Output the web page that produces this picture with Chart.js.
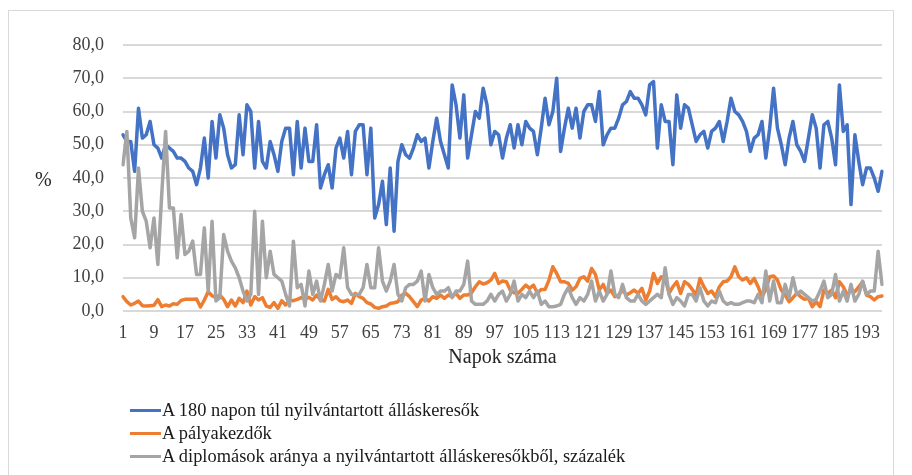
<!DOCTYPE html>
<html>
<head>
<meta charset="utf-8">
<script src="https://cdn.jsdelivr.net/npm/chart.js@4/dist/chart.umd.min.js"></script>
<style>
  html, body { margin: 0; padding: 0; background: #ffffff; }
  #wrap { position: relative; width: 912px; height: 475px; overflow: hidden; background: #fff; }
  #frame { position: absolute; left: 8px; top: 10px; width: 886px; height: 480px; border: 1px solid #d9d9d9; box-sizing: border-box; }
  #c { position: absolute; left: 0; top: 0; }
  .ytitle { position: absolute; left: 35px; top: 168px; font: 20px "Liberation Serif", "Times New Roman", serif; color: #262626; }
  .leg { position: absolute; left: 130px; font: 18.4px "Liberation Serif", "Times New Roman", serif; color: #1a1a1a; }
  .leg .row { position: relative; height: 23px; line-height: 23px; white-space: nowrap; }
  .leg .sw { position: absolute; left: 0; top: 10px; width: 31px; height: 3px; }
  .leg .tx { position: absolute; left: 32px; top: 0; }
</style>
</head>
<body>
<div id="wrap">
  <div id="frame"></div>
  <canvas id="c" width="912" height="475"></canvas>
  <div class="ytitle">%</div>
  <div class="leg" id="legend" style="top:399px;"></div>
</div>
<script>
// Categories: day numbers 1..197
const days = Array.from({length: 197}, (_, i) => String(i + 1));

// Tick labels shown on the x axis
const xTickLabels = ['1','9','17','25','33','41','49','57','65','73','81','89','97','105','113','121','129','137','145','153','161','169','177','185','193'];

// Series names
const seriesNames = [
  'A 180 napon túl nyilvántartott álláskeresők',
  'A pályakezdők',
  'A diplomások aránya a nyilvántartott álláskeresőkből, százalék'
];

// Series 1: 180 napon túl nyilvántartott álláskeresők (%)
const longTerm = [
  53,51,51,42,61,52,53,57,50,49,
  46,50,49,48,46,46,45,43,42,38,
  43,52,40,57,46,59,55,47,43,44,
  59,47,62,60,43,57,45,43,51,47,
  42,51,55,55,41,57,43,55,45,45,
  56,37,41,44,37,49,52,46,54,41,
  54,56,56,41,55,28,32,39,26,43,
  24,45,50,47,46,49,53,51,52,43,
  51,58,51,47,43,68,62,52,65,46,
  53,60,58,67,62,50,54,53,46,52,
  56,49,56,50,57,55,54,47,55,64,
  56,60,70,48,55,61,55,61,52,60,
  62,62,57,66,50,53,55,55,58,62,
  63,66,64,64,62,59,68,69,49,62,
  57,57,44,65,55,62,61,56,51,53,
  54,49,54,55,57,51,57,64,60,59,
  57,54,48,52,53,57,46,55,67,55,
  50,44,52,57,50,48,45,52,59,55,
  43,56,57,52,44,68,54,56,32,53,
  45,38,43,43,40,36,42
];

// Series 2: pályakezdők (%)
const newEntrants = [
  4.3,2.8,1.8,2.3,3.0,1.6,1.5,1.6,1.7,3.4,
  1.3,1.8,1.5,2.2,2.0,3.2,3.5,3.5,3.5,3.6,
  1.2,3.3,5.8,4.6,4.0,4.8,3.5,1.3,3.3,1.5,
  3.8,2.5,6.0,1.8,4.3,3.3,4.0,1.5,1.1,2.5,
  0.8,3.1,1.8,3.3,3.1,3.5,4.0,3.6,4.1,3.3,
  4.8,3.3,3.0,6.5,3.5,4.3,3.1,2.8,3.3,2.3,
  5.3,4.3,3.8,2.5,2.1,1.1,0.8,1.3,1.5,2.3,
  2.5,2.8,4.8,5.3,4.3,2.8,1.3,3.3,3.8,3.0,
  4.3,3.8,4.8,3.8,4.8,4.3,5.3,3.8,4.8,4.8,
  5.5,7.3,8.8,8.1,8.5,9.3,11.3,8.3,9.0,8.8,
  6.3,5.5,5.3,6.5,7.8,6.8,7.8,5.3,6.5,6.5,
  9.3,13.3,11.3,8.8,8.8,8.3,6.3,7.3,9.8,10.3,
  9.0,12.8,11.0,6.3,8.0,5.3,6.3,4.3,4.8,6.3,
  4.8,5.5,6.3,5.3,6.8,3.3,6.0,11.3,8.3,10.3,
  9.8,5.3,7.3,8.8,5.3,8.8,8.0,6.5,4.8,9.8,
  7.3,5.3,6.0,4.3,7.3,8.8,9.0,10.3,13.3,10.3,
  9.3,10.0,8.3,9.8,7.3,4.3,6.5,10.3,10.5,9.3,
  6.3,4.8,2.8,4.0,5.3,4.3,3.5,3.8,1.3,2.8,
  1.3,6.3,5.3,6.3,4.0,8.8,7.3,4.8,6.3,5.8,
  7.3,8.8,4.8,4.3,3.3,4.3,4.5
];

// Series 3: diplomások aránya (%)
const graduates = [
  44,54,28,22,43,30,27,19,28,14,
  35,54,31,31,16,29,17,18,21,11,
  11,25,6,27,3,4,23,18,15,13,
  10,6,3,5,30,5,27,10,18,11,
  10,9,5,1.5,21,7,8,1.5,12,5,
  9,3,8,14,6,11,10,19,7,5,
  5,5,7,14,7,7,19,9,6,9,
  14,5,3,7,8,8,9,12,3,11,
  7,5,6,6,7,4,6,6,8,15,
  3,2,2,2,3,5,3,5,6,3,
  5,9,3,5,4,6,4,6,2,3,
  1.3,1.3,1.5,2,5,7,4,2,4,3,
  5,9,3,6,3,5,12,5,4,8,
  4,3,3,5,3,2,3,4,5,4,
  13,5,2,4,3,1.5,5,5,3,7,
  3,1.5,3,2.5,6,3,2,2.5,2,2,
  2.5,3,3,2.5,5,2.5,12,3,9,2.5,
  2.5,8,4,10,5,6,5,4,3,3.5,
  6,9,4,5,11,3,6,3,8,3,
  5,9,5,6,6,18,8
];

const colors = ['#4472C4', '#ED7D31', '#A5A5A5'];
const serif = '"Liberation Serif", "Times New Roman", serif';
const textColor = '#404040';

const chart = new Chart(document.getElementById('c'), {
  type: 'line',
  data: {
    labels: days,
    datasets: [
      { label: seriesNames[0], data: longTerm, borderColor: colors[0], backgroundColor: colors[0], order: 3 },
      { label: seriesNames[1], data: newEntrants, borderColor: colors[1], backgroundColor: colors[1], order: 2 },
      { label: seriesNames[2], data: graduates, borderColor: colors[2], backgroundColor: colors[2], order: 1 }
    ]
  },
  options: {
    responsive: false,
    animation: false,
    layout: { padding: { left: 0, right: 30, top: 45, bottom: 104 } },
    plugins: { legend: { display: false }, tooltip: { enabled: false } },
    elements: {
      point: { radius: 0, hoverRadius: 0 },
      line: { tension: 0, borderWidth: 3.5, borderJoinStyle: 'round', borderCapStyle: 'round', fill: false }
    },
    scales: {
      x: {
        type: 'category',
        offset: false,
        grid: { display: false, drawTicks: false },
        border: { display: false },
        ticks: {
          autoSkip: false,
          maxRotation: 0,
          minRotation: 0,
          padding: 11,
          color: textColor,
          font: { family: serif, size: 18 },
          callback: function (v) {
            const l = this.getLabelForValue(v);
            return xTickLabels.includes(l) ? l : '';
          }
        },
        title: {
          display: true,
          text: 'Napok száma',
          color: '#262626',
          font: { family: serif, size: 20 },
          padding: { top: 0, bottom: 1 }
        },
        afterFit: s => { s.height = 60; }
      },
      y: {
        min: 0,
        max: 80,
        grid: { color: '#d9d9d9', lineWidth: 2, drawTicks: false },
        border: { display: false },
        ticks: {
          stepSize: 10,
          padding: 19,
          color: textColor,
          font: { family: serif, size: 18 },
          callback: v => Number(v).toFixed(1).replace('.', ',')
        },
        afterFit: s => { s.width = 123; }
      }
    }
  }
});

// HTML legend, one entry per row, built from the chart's datasets
const leg = document.getElementById('legend');
chart.data.datasets.forEach(ds => {
  const row = document.createElement('div');
  row.className = 'row';
  const sw = document.createElement('div');
  sw.className = 'sw';
  sw.style.background = ds.borderColor;
  const tx = document.createElement('div');
  tx.className = 'tx';
  tx.textContent = ds.label;
  row.appendChild(sw);
  row.appendChild(tx);
  leg.appendChild(row);
});
</script>
</body>
</html>
